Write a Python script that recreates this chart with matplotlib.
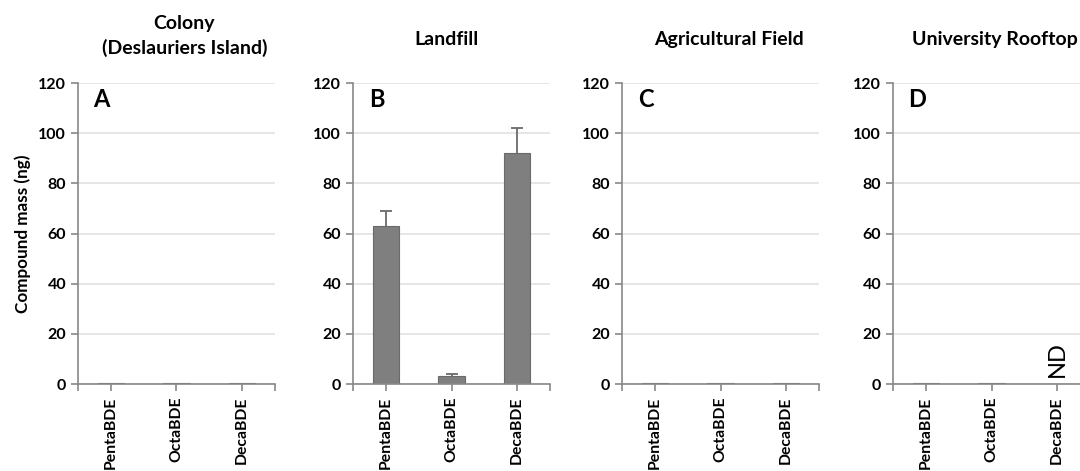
import matplotlib.pyplot as plt
import numpy as np

plt.rcParams['font.family'] = ['Lato', 'DejaVu Sans']

# Data
categories = ["PentaBDE", "OctaBDE", "DecaBDE"]
sites = ["Colony\n(Deslauriers Island)", "Landfill", "Agricultural Field", "University Rooftop"]
letters = ["A", "B", "C", "D"]

colony = [0.3, 0.3, 0.3]
landfill = [63, 3, 92]
landfill_err = [6, 1, 10]
agricultural = [0.3, 0.3, 0.3]
rooftop = [0.3, 0.3, np.nan]  # DecaBDE not detected

values = [colony, landfill, agricultural, rooftop]
errors = [None, landfill_err, None, None]

W, H = 1080, 471
fig = plt.figure(figsize=(W / 100, H / 100), dpi=100)

# axes placement in pixels
lefts = [78, 353, 622, 893]
width = 197
top, bottom = 83, 384
title_y = [1.156, 1.143, 1.143, 1.143]
title_dx = [8, -5, 8, 3]

x = np.arange(len(categories))
for i in range(4):
    ax = fig.add_axes([lefts[i] / W, 1 - bottom / H, width / W, (bottom - top) / H])
    ax.set_axisbelow(True)
    ax.yaxis.grid(True, color='#e2e2e2', linewidth=1.2)
    ax.bar(x, values[i], 0.4, color='#7f7f7f', edgecolor='#6a6a6a', linewidth=0.8)
    if errors[i] is not None:
        eb = ax.errorbar(x, values[i], yerr=[np.zeros(len(categories)), errors[i]],
                         fmt='none', ecolor='#6a6a6a', elinewidth=1.3, capsize=4, capthick=1.3)
        eb[1][0].set_visible(False)  # hide lower caps
    ax.set_xlim(-0.5, 2.5)
    ax.set_ylim(0, 120)
    ax.set_yticks(range(0, 121, 20))
    ax.set_xticks(x)
    ax.set_xticks([-0.5, 2.5], minor=True)
    ax.set_xticklabels(categories, rotation=90, fontsize=11.3, fontweight='bold')
    ax.tick_params(axis='y', labelsize=11.5, length=5, color='#888888', width=1.2)
    ax.tick_params(axis='x', which='both', length=5, color='#888888', width=1.2, pad=4)
    for lbl in ax.get_yticklabels():
        lbl.set_fontweight('bold')
    for s in ['top', 'right']:
        ax.spines[s].set_visible(False)
    for s in ['left', 'bottom']:
        ax.spines[s].set_color('#888888')
        ax.spines[s].set_linewidth(1.2)
    ax.text(0.12, 0.944, letters[i], transform=ax.transAxes, fontsize=17,
            fontweight='bold', ha='center', va='center')
    ax.text(0.5 + title_dx[i] / width, title_y[i], sites[i], transform=ax.transAxes,
            fontsize=14, fontweight='bold', ha='center', va='center', linespacing=1.4)
    if i == 0:
        ax.set_ylabel('Compound mass (ng)', fontsize=12.3, fontweight='bold', labelpad=5)
    if i == 3:
        ax.text(2, 10, 'ND', rotation=90, fontsize=17, ha='center', va='center')

plt.savefig('out.png', dpi=100)
